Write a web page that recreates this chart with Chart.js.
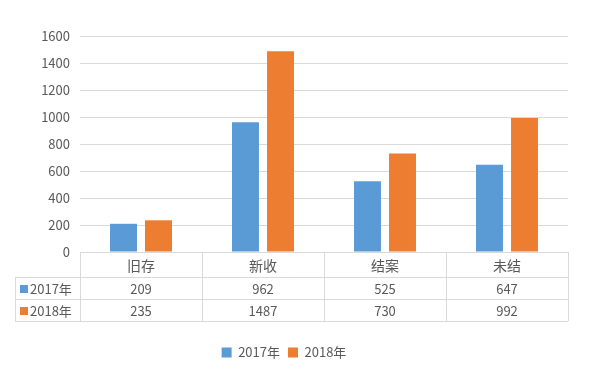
<!DOCTYPE html>
<html>
<head>
<meta charset="utf-8">
<script src="https://cdn.jsdelivr.net/npm/chart.js@4"></script>
<style>
  html, body { margin: 0; padding: 0; background: #ffffff; }
  #wrap { width: 598px; height: 381px; }
</style>
</head>
<body>
<div id="wrap"><canvas id="myChart" width="598" height="381"></canvas></div>
<script>
const categories = ['旧存', '新收', '结案', '未结']; // columns of the data table
const seriesNames = ['2017年', '2018年'];
const values2017 = [209, 962, 525, 647];
const values2018 = [235, 1487, 730, 992];

const blue = '#5b9bd5';
const orange = '#ed7d31';
const textColor = '#595959';
const lineColor = '#d9d9d9';
const fontFamily = '"Noto Sans CJK SC", "Noto Sans", sans-serif';

// Draws the Excel style data table under the x axis
const dataTable = {
    id: 'dataTable',
    afterDraw(chart) {
        const ctx = chart.ctx;
        const x = chart.scales.x;
        const top = chart.chartArea.bottom;
        const headerH = 25;
        const rowH = 22;
        const left = 15;
        const right = chart.chartArea.right;
        const bottom = top + headerH + rowH * 2;
        const rows = [
            { name: seriesNames[0], color: blue, data: values2017 },
            { name: seriesNames[1], color: orange, data: values2018 }
        ];

        ctx.save();
        ctx.strokeStyle = lineColor;
        ctx.lineWidth = 1;
        ctx.beginPath();
        // horizontal lines
        ctx.moveTo(x.left, top + 0.5); ctx.lineTo(right, top + 0.5);
        for (let r = 0; r < 2; r++) {
            const y = Math.round(top + headerH + rowH * r) + 0.5;
            ctx.moveTo(left, y); ctx.lineTo(right, y);
        }
        ctx.moveTo(left, bottom + 0.5); ctx.lineTo(right, bottom + 0.5);
        // vertical lines
        ctx.moveTo(left + 0.5, top + headerH); ctx.lineTo(left + 0.5, bottom);
        for (let i = 0; i <= categories.length; i++) {
            const px = Math.round(x.getPixelForValue(i - 0.5)) + 0.5;
            ctx.moveTo(px, top); ctx.lineTo(px, bottom);
        }
        ctx.stroke();

        ctx.fillStyle = textColor;
        ctx.textAlign = 'center';
        ctx.textBaseline = 'middle';
        ctx.font = '14px ' + fontFamily;
        categories.forEach((c, i) => {
            ctx.fillText(c, x.getPixelForValue(i), top + headerH / 2 + 1);
        });
        ctx.font = '13px ' + fontFamily;
        rows.forEach((row, r) => {
            const cy = top + headerH + rowH * r + rowH / 2 + 1;
            row.data.forEach((v, i) => {
                ctx.fillStyle = textColor;
                ctx.textAlign = 'center';
                ctx.fillText(String(v), x.getPixelForValue(i), cy);
            });
            ctx.fillStyle = row.color;
            ctx.fillRect(left + 5, cy - 4, 8, 8);
            ctx.fillStyle = textColor;
            ctx.textAlign = 'left';
            ctx.fillText(row.name, left + 15, cy);
        });
        ctx.restore();
    }
};

const ctx = document.getElementById('myChart').getContext('2d');
const myChart = new Chart(ctx, {
    type: 'bar',
    data: {
        labels: categories,
        datasets: [
            {
                label: seriesNames[0],
                data: values2017,
                backgroundColor: blue,
                categoryPercentage: 0.574,
                barPercentage: 0.77
            },
            {
                label: seriesNames[1],
                data: values2018,
                backgroundColor: orange,
                categoryPercentage: 0.574,
                barPercentage: 0.77
            }
        ]
    },
    plugins: [dataTable],
    options: {
        responsive: false,
        animation: false,
        layout: { padding: { top: 36, right: 30, left: 0, bottom: 12 } },
        plugins: {
            legend: {
                position: 'bottom',
                labels: {
                    boxWidth: 10,
                    boxHeight: 10,
                    padding: 8,
                    color: textColor,
                    font: { size: 13, family: fontFamily }
                }
            },
            tooltip: { enabled: false }
        },
        scales: {
            x: {
                ticks: { display: false },
                grid: { display: false },
                border: { display: false },
                afterFit(scale) { scale.height = 86; }
            },
            y: {
                min: 0,
                max: 1600,
                ticks: {
                    stepSize: 200,
                    padding: 10,
                    color: textColor,
                    font: { size: 13, family: fontFamily },
                    callback: (v) => String(v)
                },
                grid: { color: lineColor, drawTicks: false },
                border: { display: false },
                afterFit(scale) { scale.width = 80; }
            }
        }
    }
});
</script>
</body>
</html>
